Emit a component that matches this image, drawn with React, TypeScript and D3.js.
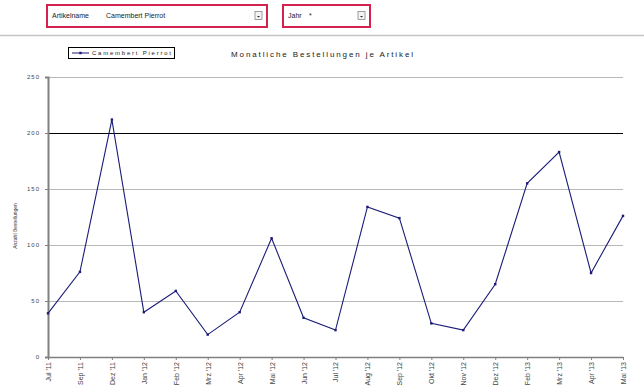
import React, { useEffect, useRef } from 'react';
import * as d3 from 'd3';

const months = [
  "Jul '11", "Sep '11", "Dez '11", "Jan '12", "Feb '12", "Mrz '12", "Apr '12", "Mai '12", "Jun '12",
  "Jul '12", "Aug '12", "Sep '12", "Okt '12", "Nov '12", "Dez '12", "Feb '13", "Mrz '13", "Apr '13", "Mai '13",
];
const orders = [39, 76, 212, 40, 59, 20, 40, 106, 35, 24, 134, 124, 30, 24, 65, 155, 183, 75, 126];
const yTicks = [0, 50, 100, 150, 200, 250];

const FONT = 'Liberation Sans, Arial, sans-serif';

const App = () => {
  const svgRef = useRef<SVGSVGElement>(null);

  useEffect(() => {
    document.body.style.margin = '0';
    const svg = d3.select(svgRef.current);
    svg.selectAll('*').remove();

    const W = 644, H = 388;
    svg.append('rect').attr('width', W).attr('height', H).attr('fill', '#fff');

    // header form boxes
    const header = svg.append('g');
    const box = (x: number, w: number, label: string, value: string, valX: number) => {
      header.append('rect').attr('x', x).attr('y', 5).attr('width', w).attr('height', 22)
        .attr('fill', '#fff').attr('stroke', '#d4224e').attr('stroke-width', 2);
      header.append('text').attr('x', x + 5).attr('y', 18).attr('font-family', FONT)
        .attr('font-size', 7).attr('fill', '#222').text(label);
      header.append('text').attr('x', valX).attr('y', 18).attr('font-family', FONT)
        .attr('font-size', 7).attr('fill', '#222').text(value);
      const bx = x + w - 12;
      header.append('rect').attr('x', bx).attr('y', 11.5).attr('width', 7).attr('height', 8)
        .attr('fill', '#f4f4f4').attr('stroke', '#888').attr('stroke-width', 0.8);
      header.append('path').attr('d', `M${bx + 2},${16} L${bx + 5},${16} L${bx + 3.5},${17.5} Z`)
        .attr('fill', '#222');
    };
    box(47, 220, 'Artikelname', 'Camembert Pierrot', 106);
    box(283, 87, 'Jahr', '*', 309);

    svg.append('line').attr('x1', 0).attr('x2', W).attr('y1', 35.5).attr('y2', 35.5)
      .attr('stroke', '#c4c4c4').attr('stroke-width', 1.5);

    const left = 48, right = 623, top = 77, bottom = 357;
    const x = d3.scalePoint<string>().domain(months).range([left, right]);
    const y = d3.scaleLinear().domain([0, 250]).range([bottom, top]);

    // gridlines
    svg.append('g').selectAll('line').data(yTicks.filter(t => t > 0)).join('line')
      .attr('x1', left).attr('x2', right)
      .attr('y1', d => Math.round(y(d)) + 0.5).attr('y2', d => Math.round(y(d)) + 0.5)
      .attr('stroke', d => (d === 200 ? '#000' : '#b8b8b8'))
      .attr('stroke-width', d => (d === 200 ? 1.2 : 1));

    // y axis
    const yAxis = svg.append('g').attr('transform', `translate(${left},0)`)
      .call(d3.axisLeft(y).tickValues(yTicks).tickSize(3).tickPadding(5));
    yAxis.select('.domain').attr('stroke', '#808080').attr('stroke-width', 2);
    yAxis.selectAll('.tick line').attr('stroke', '#808080');
    yAxis.selectAll('.tick text').attr('font-family', FONT).attr('font-size', 6)
      .attr('letter-spacing', 1).attr('fill', '#444');

    // x axis
    const xAxis = svg.append('g').attr('transform', `translate(0,${bottom})`)
      .call(d3.axisBottom(x).tickSize(3).tickSizeOuter(0));
    xAxis.select('.domain').attr('stroke', '#808080').attr('stroke-width', 1.5);
    xAxis.selectAll('.tick line').attr('stroke', '#808080');
    xAxis.selectAll('.tick text')
      .attr('font-family', FONT).attr('font-size', 7).attr('fill', '#444')
      .attr('text-anchor', 'end').attr('transform', 'rotate(-90)')
      .attr('x', -5).attr('y', 0).attr('dy', '0.35em');

    // y axis title
    svg.append('text').attr('transform', `translate(17,226) rotate(-90)`)
      .attr('text-anchor', 'middle').attr('font-family', FONT).attr('font-size', 5)
      .attr('fill', '#333').text('Anzahl Bestellungen');

    // series line
    const line = d3.line<number>().x((_, i) => x(months[i]) as number).y(d => y(d));
    svg.append('path').datum(orders).attr('d', line).attr('fill', 'none')
      .attr('stroke', '#1c1c78').attr('stroke-width', 1.1);
    svg.append('g').selectAll('rect').data(orders).join('rect')
      .attr('x', (_, i) => (x(months[i]) as number) - 1.2).attr('y', d => y(d) - 1.2)
      .attr('width', 2.4).attr('height', 2.4).attr('fill', '#1c1c78');

    // title
    svg.append('text').attr('x', 231).attr('y', 57).attr('font-family', FONT)
      .attr('font-size', 8).attr('fill', '#222').attr('textLength', 182)
      .attr('lengthAdjust', 'spacing').text('Monatliche Bestellungen je Artikel');

    // legend
    const lg = svg.append('g');
    lg.append('rect').attr('x', 68.5).attr('y', 47.5).attr('width', 106).attr('height', 11)
      .attr('fill', '#fff').attr('stroke', '#000').attr('stroke-width', 1);
    lg.append('line').attr('x1', 72).attr('x2', 89).attr('y1', 53).attr('y2', 53)
      .attr('stroke', '#1c1c78').attr('stroke-width', 1);
    lg.append('rect').attr('x', 79.3).attr('y', 51.8).attr('width', 2.4).attr('height', 2.4)
      .attr('fill', '#1c1c78');
    lg.append('text').attr('x', 92).attr('y', 55.3).attr('font-family', FONT)
      .attr('font-size', 6).attr('fill', '#222').attr('textLength', 79)
      .attr('lengthAdjust', 'spacing').text('Camembert Pierrot');
  }, []);

  return <svg ref={svgRef} width={644} height={388} style={{ display: 'block' }} />;
};

export default App;
